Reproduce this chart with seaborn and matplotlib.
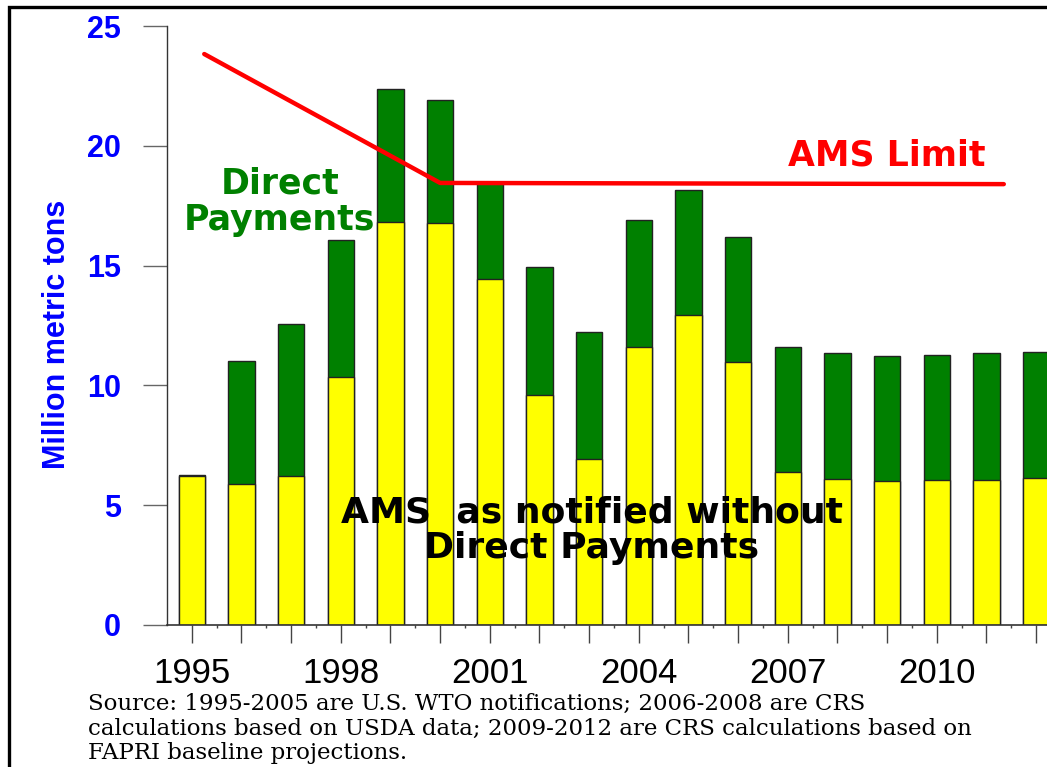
import matplotlib
matplotlib.use("Agg")
import matplotlib.pyplot as plt
import matplotlib.patches as mpatches
import numpy as np
import pandas as pd
import seaborn as sns

# values
years = list(range(1995, 2013))
ams_without_dp = [6.2, 5.88, 6.2, 10.35, 16.82, 16.78, 14.44, 9.6, 6.93,
                  11.6, 12.94, 10.98, 6.39, 6.09, 6.0, 6.05, 6.05, 6.13]
ams_total = [6.26, 11.02, 12.56, 16.07, 22.37, 21.9, 18.5, 14.94, 12.23,
             16.9, 18.15, 16.2, 11.6, 11.35, 11.22, 11.26, 11.35, 11.4]
limit_years = [1995.25, 2000.0, 2011.35]
limit_values = [23.83, 18.45, 18.4]
label_years = [1995, 1998, 2001, 2004, 2007, 2010]

YELLOW = "#FFFF00"
GREEN = "#008000"
RED = "#FF0000"
BLUE = "#0000FF"

sns.set_style("white")
plt.rcParams["font.family"] = ["Liberation Sans", "DejaVu Sans"]
plt.rcParams["text.color"] = "black"
plt.rcParams["xtick.color"] = "black"

df = pd.DataFrame({"year": years, "base": ams_without_dp, "total": ams_total})

fig = plt.figure(figsize=(10.47, 7.67), dpi=100)
ax = fig.add_axes([167 / 1047, 142 / 767, 880 / 1047, 599 / 767])

# stacked bars: total in green, notified AMS in yellow on top of it
sns.barplot(data=df, x="year", y="total", native_scale=True, color=GREEN,
            width=0.53, saturation=1, edgecolor="#222222", linewidth=1, ax=ax)
sns.barplot(data=df, x="year", y="base", native_scale=True, color=YELLOW,
            width=0.53, saturation=1, edgecolor="#222222", linewidth=1, ax=ax)

ax.plot(limit_years, limit_values, color=RED, lw=3.2, solid_capstyle="round")

ax.set_xlim(1994.5, 2012.22)
ax.set_ylim(0, 25)

for side in ["top", "right"]:
    ax.spines[side].set_visible(False)
ax.spines["left"].set_color("#333333")
ax.spines["bottom"].set_color("#333333")
ax.spines["left"].set_linewidth(1)
ax.spines["bottom"].set_linewidth(1.2)

ax.set_yticks(range(0, 26, 5))
ax.set_yticklabels([str(v) for v in range(0, 26, 5)], fontsize=22,
                   fontweight="bold", color=BLUE)
ax.tick_params(axis="y", left=True, length=17, width=1, color="#666666",
               pad=16, direction="out")

ax.set_xticks(years)
ax.set_xticklabels([str(y) if y in label_years else "" for y in years],
                   fontsize=25, color="black")
ax.set_xticks(np.array(years[:-1]) + 0.5, minor=True)
ax.tick_params(axis="x", which="major", bottom=True, length=13, width=1,
               color="#444444", pad=10, direction="out")
ax.tick_params(axis="x", which="minor", bottom=True, length=2, width=1,
               color="#444444", direction="out")
ax.set_xlabel("")

ax.set_ylabel("Million metric tons", fontsize=22, fontweight="bold",
              color=BLUE, va="center")
ax.yaxis.set_label_coords(-0.125, 0.486)

ax.text(1996.77, 17.65, "Direct\nPayments", color=GREEN, fontsize=25,
        fontweight="bold", family="DejaVu Sans", ha="center", va="center",
        linespacing=1.1)
ax.text(2009.0, 19.6, "AMS Limit", color=RED, fontsize=25,
        fontweight="bold", family="DejaVu Sans", ha="center", va="center")
ax.text(2003.05, 3.95, "AMS  as notified without\nDirect Payments",
        color="black", fontsize=26, fontweight="bold", family="DejaVu Sans",
        ha="center", va="center", linespacing=1.05)

fig.text(88 / 1047, 1 - 693 / 767,
         "Source: 1995-2005 are U.S. WTO notifications; 2006-2008 are CRS\n"
         "calculations based on USDA data; 2009-2012 are CRS calculations based on\n"
         "FAPRI baseline projections.",
         family="DejaVu Serif", fontsize=16.5, ha="left", va="top",
         linespacing=1.16)

# outer frame of the slide, running off the right and bottom edges
frame = mpatches.Rectangle((8.5 / 1047, -0.2), 1.3, 1.2 - 6.5 / 767,
                           transform=fig.transFigure, fill=False,
                           edgecolor="black", lw=2.4, clip_on=False)
fig.add_artist(frame)

fig.savefig("out.png", dpi=100)
